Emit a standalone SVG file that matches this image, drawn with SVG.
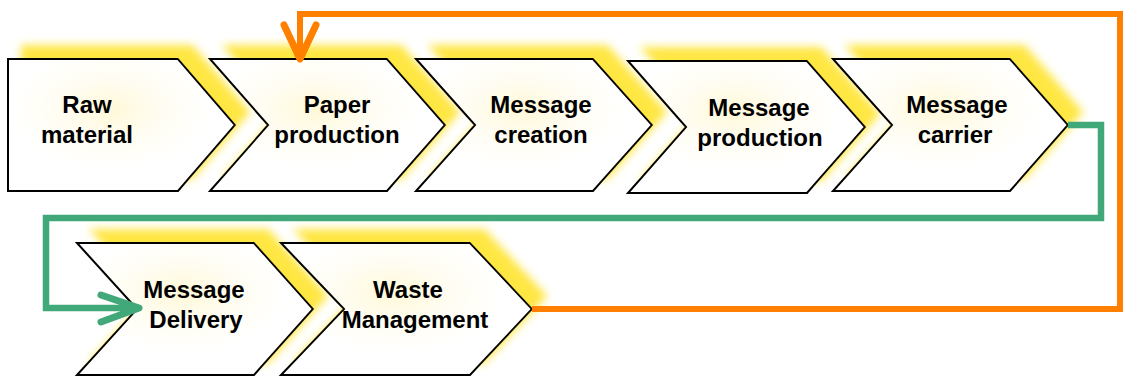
<svg xmlns="http://www.w3.org/2000/svg" width="1123" height="376" viewBox="0 0 1123 376">
<style>
  .node { fill: url(#inner); stroke: #000; stroke-width: 2; stroke-linejoin: miter; filter: url(#glow); }
  .label { font-family: "Liberation Sans", Arial, sans-serif; font-weight: bold; font-size: 24px; fill: #000; text-anchor: middle; }
  .green { fill: none; stroke: #41A87A; stroke-width: 6.5; stroke-linejoin: miter; }
  .orange { fill: none; stroke: #FF7F00; stroke-width: 6; stroke-linejoin: miter; }
</style>
<defs>
  <radialGradient id="inner" cx="0.45" cy="0.38" r="0.45">
    <stop offset="0" stop-color="#FFF8D8"/>
    <stop offset="0.5" stop-color="#FFFDF2"/>
    <stop offset="1" stop-color="#FFFFFF"/>
  </radialGradient>
  <filter id="glow" x="-20%" y="-40%" width="150%" height="170%">
    <feFlood flood-color="#FFE53A" flood-opacity="0.95" result="c"/>
    <feComposite in="c" in2="SourceAlpha" operator="in" result="s"/>
    <feOffset in="s" dx="14" dy="-13" result="o"/>
    <feGaussianBlur in="o" stdDeviation="4.5" result="b"/>
    <feMerge><feMergeNode in="b"/><feMergeNode in="SourceGraphic"/></feMerge>
  </filter>
  <marker id="arrG" markerUnits="userSpaceOnUse" markerWidth="60" markerHeight="40" viewBox="-50 -20 60 40" refX="0" refY="0" orient="auto">
    <path d="M-38,-13 L0,0 L-38,14" fill="none" stroke="#41A87A" stroke-width="7" stroke-linecap="round" stroke-linejoin="round"/>
  </marker>
  <marker id="arrO" markerUnits="userSpaceOnUse" markerWidth="60" markerHeight="50" viewBox="-45 -25 60 50" refX="0" refY="0" orient="auto">
    <path d="M-34,16 L0,0 L-34,-16" fill="none" stroke="#FF7F00" stroke-width="7" stroke-linecap="round" stroke-linejoin="round"/>
  </marker>
</defs>
<rect width="1123" height="376" fill="#FFFFFF"/>

<g id="node-raw-material">
  <path class="node" d="M8,59 L178,59 L235,125 L178,191 L8,191 Z"/>
  <text class="label" x="87" y="113">Raw</text>
  <text class="label" x="87" y="143">material</text>
</g>
<g id="node-paper-production">
  <path class="node" d="M210,59 L387,59 L445,125 L387,191 L210,191 L268,125 Z"/>
  <text class="label" x="337" y="113">Paper</text>
  <text class="label" x="337" y="143">production</text>
</g>
<g id="node-message-creation">
  <path class="node" d="M416,59 L593,59 L652,125 L593,191 L416,191 L475,125 Z"/>
  <text class="label" x="541" y="113">Message</text>
  <text class="label" x="541" y="143">creation</text>
</g>
<g id="node-message-production">
  <path class="node" d="M628,61 L807,61 L865,127 L807,193 L628,193 L686,127 Z"/>
  <text class="label" x="759" y="116">Message</text>
  <text class="label" x="760" y="146">production</text>
</g>
<g id="node-message-carrier">
  <path class="node" d="M833,59 L1010,59 L1068,125 L1010,191 L833,191 L892,125 Z"/>
  <text class="label" x="957" y="113">Message</text>
  <text class="label" x="955" y="143">carrier</text>
</g>
<g id="node-message-delivery">
  <path class="node" d="M77,243 L254,243 L313,309 L254,375 L77,375 L137,309 Z"/>
  <text class="label" x="194" y="298">Message</text>
  <text class="label" x="196" y="328">Delivery</text>
</g>
<g id="node-waste-management">
  <path class="node" d="M281,243 L470,243 L532,309 L470,375 L281,375 L344,309 Z"/>
  <text class="label" x="408" y="298">Waste</text>
  <text class="label" x="415" y="328">Management</text>
</g>

<g id="connectors">
  <path class="green" d="M1068,125 L1101,125 L1101,218 L46,218 L46,308 L139,308" marker-end="url(#arrG)"/>
  <path class="orange" d="M532,309 L1120,309 L1120,14 L300,14 L300,59" marker-end="url(#arrO)"/>
</g>
</svg>
